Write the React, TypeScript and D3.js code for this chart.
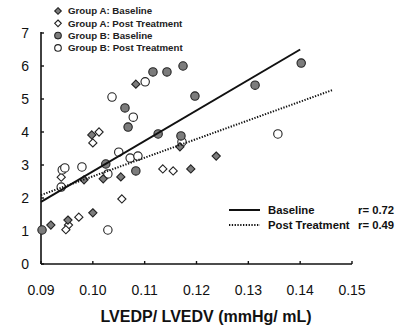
import React from "react";
import * as d3 from "d3";

const xTicks = [0.09, 0.1, 0.11, 0.12, 0.13, 0.14, 0.15];
const yTicks = [0, 1, 2, 3, 4, 5, 6, 7];

const groupABaseline: [number, number][] = [
  [0.1083, 5.45], [0.0998, 3.91], [0.0983, 2.55], [0.102, 2.58], [0.1054, 2.64],
  [0.1168, 3.55], [0.1189, 2.88], [0.1238, 3.27], [0.1, 1.55], [0.0952, 1.33], [0.0919, 1.18],
];
const groupAPost: [number, number][] = [
  [0.1012, 4.0], [0.1, 3.67], [0.1135, 2.88], [0.1155, 2.82], [0.1056, 1.97],
  [0.0973, 1.42], [0.0953, 1.18], [0.0948, 1.04], [0.0939, 2.63],
];
const groupBBaseline: [number, number][] = [
  [0.1116, 5.82], [0.1143, 5.82], [0.1174, 6.0], [0.1197, 5.09], [0.1062, 4.73],
  [0.1068, 4.15], [0.1126, 3.94], [0.117, 3.88], [0.1025, 3.03], [0.1083, 2.82],
  [0.1313, 5.42], [0.1402, 6.09], [0.0902, 1.03],
];
const groupBPost: [number, number][] = [
  [0.1101, 5.52], [0.1037, 5.06], [0.1078, 4.45], [0.1172, 3.7], [0.105, 3.39],
  [0.1072, 3.21], [0.1087, 3.27], [0.1029, 2.73], [0.0979, 2.94], [0.0941, 2.85],
  [0.0946, 2.91], [0.0939, 2.33], [0.1029, 1.03], [0.1357, 3.94],
];
const baselineFit: [number, number][] = [[0.09, 1.88], [0.14, 6.5]];
const postFit: [number, number][] = [[0.09, 2.09], [0.1462, 5.27]];

const legendGroups = [
  "Group A: Baseline",
  "Group A: Post Treatment",
  "Group B: Baseline",
  "Group B: Post Treatment",
];
const fitLegend = [
  { name: "Baseline", r: "r= 0.72" },
  { name: "Post Treatment", r: "r= 0.49" },
];

const GRAY = "#7c7c7c";
const STROKE = "#222";
const FONT = "'Liberation Sans', Arial, sans-serif";

function Diamond({ x, y, filled, s = 4.1 }: { x: number; y: number; filled: boolean; s?: number }) {
  const p = `M${x},${y - s}L${x + s},${y}L${x},${y + s}L${x - s},${y}Z`;
  return <path d={p} fill={filled ? GRAY : "#fff"} stroke={STROKE} strokeWidth={1.1} />;
}
function Circle({ x, y, filled, r = 4.2 }: { x: number; y: number; filled: boolean; r?: number }) {
  return <circle cx={x} cy={y} r={r} fill={filled ? GRAY : "#fff"} stroke={STROKE} strokeWidth={1.1} />;
}

export default function App() {
  const x = d3.scaleLinear().domain([0.09, 0.15]).range([41, 352]);
  const y = d3.scaleLinear().domain([0, 7]).range([264, 33]);
  const line = d3.line<[number, number]>().x((d) => x(d[0])).y((d) => y(d[1]));

  return (
    <svg width={402} height={325} style={{ position: "absolute", left: 0, top: 0, background: "#fff" }} fontFamily={FONT}>
      {/* axes */}
      <line x1={41} x2={41} y1={y(7) - 1} y2={y(0)} stroke="#111" strokeWidth={1.6} />
      <line x1={41} x2={x(0.15)} y1={y(0)} y2={y(0)} stroke="#111" strokeWidth={1.6} />
      {yTicks.map((t) => (
        <g key={"y" + t}>
          <line x1={41} x2={44} y1={y(t)} y2={y(t)} stroke="#111" strokeWidth={1.4} />
          <text x={29} y={y(t)} dy="0.36em" textAnchor="end" fontSize={14} fill="#111">
            {t}
          </text>
        </g>
      ))}
      {xTicks.map((t) => (
        <g key={"x" + t}>
          <line x1={x(t)} x2={x(t)} y1={y(0)} y2={y(0) - 3} stroke="#111" strokeWidth={1.4} />
          <text x={x(t)} y={295} textAnchor="middle" fontSize={14} fill="#111">
            {t.toFixed(2)}
          </text>
        </g>
      ))}
      <text x={206} y={322} textAnchor="middle" fontSize={16} fontWeight="bold" fill="#111">
        LVEDP/ LVEDV (mmHg/ mL)
      </text>

      {/* points */}
      {groupAPost.map((d, i) => <Diamond key={"ap" + i} x={x(d[0])} y={y(d[1])} filled={false} />)}
      {groupBPost.map((d, i) => <Circle key={"bp" + i} x={x(d[0])} y={y(d[1])} filled={false} />)}
      {groupABaseline.map((d, i) => <Diamond key={"ab" + i} x={x(d[0])} y={y(d[1])} filled={true} />)}
      {groupBBaseline.map((d, i) => <Circle key={"bb" + i} x={x(d[0])} y={y(d[1])} filled={true} />)}

      {/* fits */}
      <path d={line(baselineFit) || ""} fill="none" stroke="#111" strokeWidth={2} />
      <path d={line(postFit) || ""} fill="none" stroke="#111" strokeWidth={2} strokeDasharray="1.3,1.5" />

      {/* group legend */}
      {legendGroups.map((g, i) => {
        const cy = 11 + i * 12.3;
        const filled = i % 2 === 0;
        return (
          <g key={g}>
            {i < 2 ? <Diamond x={58} y={cy} filled={filled} s={3.3} /> : <Circle x={58} y={cy} filled={filled} r={3.3} />}
            <text x={68} y={cy} dy="0.35em" fontSize={9.7} fontWeight="bold" fill="#222">
              {g}
            </text>
          </g>
        );
      })}

      {/* fit legend */}
      {fitLegend.map((f, i) => {
        const cy = 210 + i * 15;
        return (
          <g key={f.name}>
            <line x1={229} x2={260} y1={cy} y2={cy} stroke="#111" strokeWidth={i === 0 ? 2 : 1.8}
              strokeDasharray={i === 0 ? undefined : "1.3,1.5"} />
            <text x={268} y={cy} dy="0.36em" fontSize={11.3} fontWeight="bold" fill="#111">{f.name}</text>
            <text x={358} y={cy} dy="0.36em" fontSize={11.3} fontWeight="bold" fill="#111">{f.r}</text>
          </g>
        );
      })}
    </svg>
  );
}
